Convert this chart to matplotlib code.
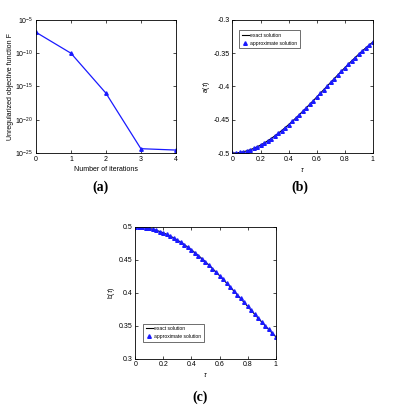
import matplotlib
matplotlib.use("Agg")
import matplotlib.pyplot as plt

plt.rcParams['font.family'] = ['Liberation Sans', 'DejaVu Sans']
plt.rcParams['mathtext.fontset'] = 'custom'
plt.rcParams['mathtext.rm'] = 'Liberation Sans'
plt.rcParams['mathtext.it'] = 'Liberation Sans:italic'

# (a) objective function per iteration
iterations = [0, 1, 2, 3, 4]
objective = [1.4e-7, 1.0e-10, 1.0e-16, 4.5e-25, 2.8e-25]

# (b), (c) exact / approximate solutions
tau = [0.0, 0.025, 0.05, 0.075, 0.1, 0.125, 0.15, 0.175, 0.2, 0.225,
       0.25, 0.275, 0.3, 0.325, 0.35, 0.375, 0.4, 0.425, 0.45, 0.475,
       0.5, 0.525, 0.55, 0.575, 0.6, 0.625, 0.65, 0.675, 0.7, 0.725,
       0.75, 0.775, 0.8, 0.825, 0.85, 0.875, 0.9, 0.925, 0.95, 0.975, 1.0]
a_vals = [-0.5, -0.49979, -0.49919, -0.49820, -0.49683, -0.49512, -0.49306,
          -0.49069, -0.48800, -0.48502, -0.48177, -0.47826, -0.47450,
          -0.47051, -0.46631, -0.46191, -0.45733, -0.45259, -0.44769,
          -0.44265, -0.43750, -0.43224, -0.42690, -0.42148, -0.41600,
          -0.41048, -0.40494, -0.39938, -0.39383, -0.38831, -0.38281,
          -0.37737, -0.37200, -0.36671, -0.36152, -0.35645, -0.35150,
          -0.34670, -0.34206, -0.33760, -0.33333]
b_vals = [0.5, 0.49986, 0.49943, 0.49872, 0.49774, 0.49647, 0.49492,
          0.49310, 0.49102, 0.48866, 0.48605, 0.48318, 0.48006, 0.47670,
          0.47310, 0.46927, 0.46523, 0.46097, 0.45651, 0.45186, 0.44703,
          0.44203, 0.43687, 0.43156, 0.42612, 0.42056, 0.41489, 0.40913,
          0.40330, 0.39740, 0.39146, 0.38548, 0.37950, 0.37353, 0.36757,
          0.36167, 0.35582, 0.35007, 0.34441, 0.33888, 0.3335]

fs = 5


def style_axes(ax):
    ax.tick_params(direction='in', top=True, right=True, labelsize=fs,
                   length=2, width=0.5, pad=2)
    for s in ax.spines.values():
        s.set_linewidth(0.6)


def add_legend(ax, loc, anchor):
    leg = ax.legend(loc=loc, fontsize=3.6, frameon=True, fancybox=False,
                    edgecolor='black', handlelength=1.4, handletextpad=0.3,
                    borderpad=0.5, labelspacing=0.6, numpoints=1,
                    bbox_to_anchor=anchor)
    leg.get_frame().set_linewidth(0.5)


fig = plt.figure(figsize=(3.95, 4.07), dpi=100)

# panel (a)
ax1 = fig.add_axes([0.0911, 0.624, 0.354, 0.327])
ax1.semilogy(iterations, objective, color='#1a1aff', lw=0.9, marker='^',
             ms=2.5)
ax1.set_xlim(0, 4)
ax1.set_ylim(1e-25, 1e-5)
ax1.set_xticks([0, 1, 2, 3, 4])
ax1.set_yticks([1e-25, 1e-20, 1e-15, 1e-10, 1e-5])
ax1.minorticks_off()
ax1.set_xlabel('Number of iterations', fontsize=fs, labelpad=2)
ax1.set_ylabel('Unregularized objective function F', fontsize=fs, labelpad=1)
style_axes(ax1)

# panel (b)
ax2 = fig.add_axes([0.5886, 0.624, 0.355, 0.327])
ax2.plot(tau, a_vals, color='black', lw=0.8, label='exact solution')
ax2.plot(tau, a_vals, ls='none', marker='^', ms=2.6, color='#1a1aff',
         label='approximate solution')
ax2.set_xlim(0, 1)
ax2.set_ylim(-0.5, -0.3)
ax2.set_xticks([0, 0.2, 0.4, 0.6, 0.8, 1])
ax2.set_xticklabels(['0', '0.2', '0.4', '0.6', '0.8', '1'])
ax2.set_yticks([-0.5, -0.45, -0.4, -0.35, -0.3])
ax2.set_yticklabels(['-0.5', '-0.45', '-0.4', '-0.35', '-0.3'])
ax2.set_xlabel(r'$\tau$', fontsize=fs, labelpad=2)
ax2.set_ylabel(r'a($\tau$)', fontsize=fs, labelpad=1)
add_legend(ax2, 'upper left', (0.03, 0.94))
style_axes(ax2)

# panel (c)
ax3 = fig.add_axes([0.3425, 0.1187, 0.3554, 0.3236])
ax3.plot(tau, b_vals, color='black', lw=0.8, label='exact solution')
ax3.plot(tau, b_vals, ls='none', marker='^', ms=2.6, color='#1a1aff',
         label='approximate solution')
ax3.set_xlim(0, 1)
ax3.set_ylim(0.3, 0.5)
ax3.set_xticks([0, 0.2, 0.4, 0.6, 0.8, 1])
ax3.set_xticklabels(['0', '0.2', '0.4', '0.6', '0.8', '1'])
ax3.set_yticks([0.3, 0.35, 0.4, 0.45, 0.5])
ax3.set_yticklabels(['0.3', '0.35', '0.4', '0.45', '0.5'])
ax3.set_xlabel(r'$\tau$', fontsize=fs, labelpad=2)
ax3.set_ylabel(r'b($\tau$)', fontsize=fs, labelpad=1)
add_legend(ax3, 'lower left', (0.04, 0.11))
style_axes(ax3)

# panel letters
for x, y, s in [(101, 187, '(a)'), (300, 187, '(b)'), (200, 397, '(c)')]:
    fig.text(x / 395, 1 - y / 407, s, ha='center', va='center',
             fontsize=10, fontweight='bold', family='Liberation Serif')

fig.savefig('out.png', dpi=100)
